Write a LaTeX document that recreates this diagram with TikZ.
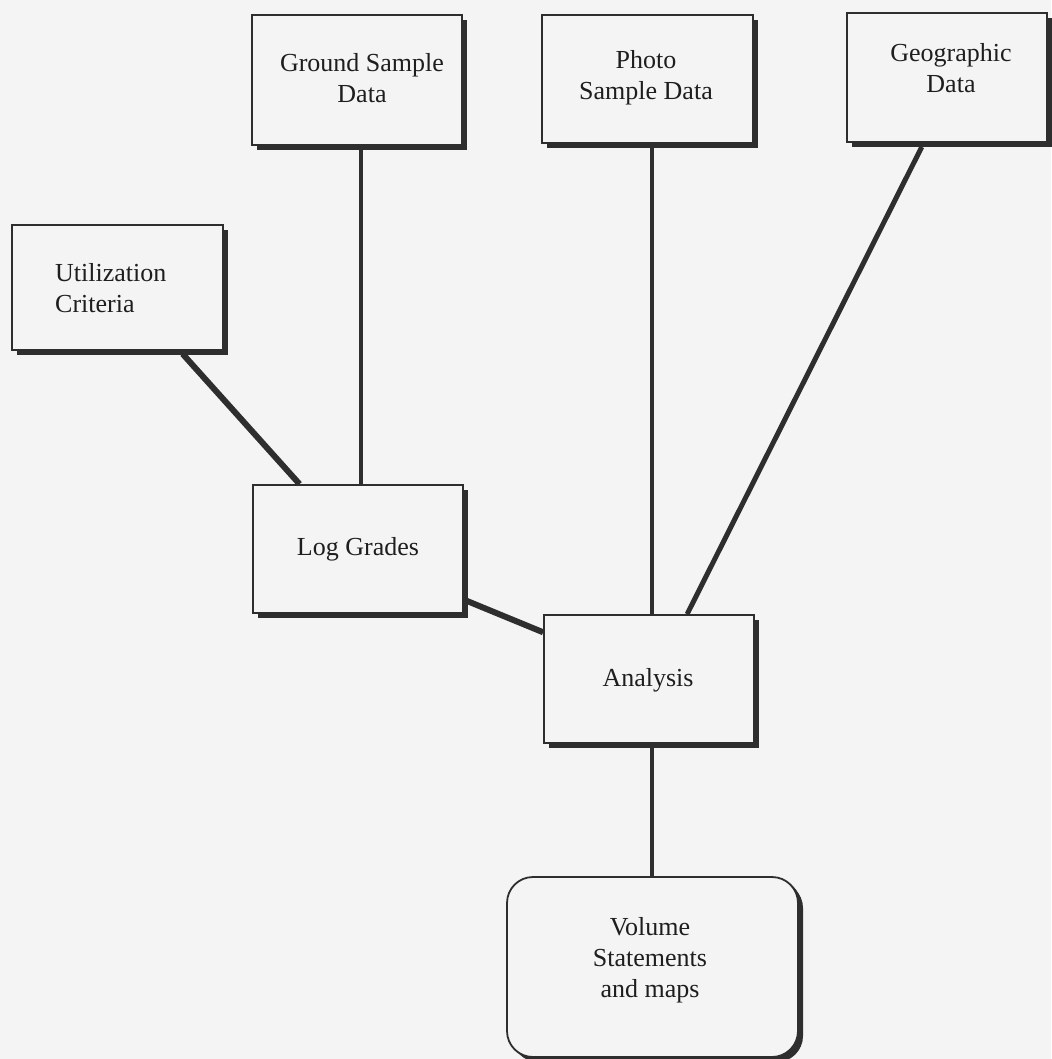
\documentclass[tikz,border=0pt]{standalone}
\usepackage{fontspec}
\setmainfont{Liberation Serif}
\usetikzlibrary{calc,shadows}
\definecolor{bg}{HTML}{F4F4F4}
\definecolor{ink}{HTML}{2E2E2E}
\definecolor{txt}{HTML}{1E1E1E}
\begin{document}
\begin{tikzpicture}[x=1pt,y=-1pt,
  box/.style={draw=ink, line width=1.8pt, fill=bg, inner sep=0pt, text=txt,
    font=\fontsize{26}{31}\selectfont, align=center,
    drop shadow={shadow xshift=5pt, shadow yshift=-5pt, fill=ink, opacity=1}},
  rbox/.style={box, rounded corners=26pt,
    drop shadow={shadow xshift=3pt, shadow yshift=-2pt, fill=ink, opacity=1}},
  link/.style={draw=ink, line width=#1},
  link/.default=4pt]
\fill[bg] (0,0) rectangle (1051,1059);
\useasboundingbox (0,0) rectangle (1051,1059);

\node[box, minimum width=210pt, minimum height=130pt] (ground) at (357,80) {};
\node[text=txt, font=\fontsize{26}{31}\selectfont, align=center] at (362,78) {Ground Sample\\Data};

\node[box, minimum width=211pt, minimum height=128pt] (photo) at (647.5,79) {};
\node[text=txt, font=\fontsize{26}{31}\selectfont, align=center] at (646,78) {Photo\\Sample Data};

\node[box, minimum width=200pt, minimum height=129pt] (geo) at (947,77.5) {};
\node[text=txt, font=\fontsize{26}{31}\selectfont, align=center] at (951,68) {Geographic\\Data};

\node[box, minimum width=211pt, minimum height=125pt] (util) at (117.5,287.5) {};
\node[text=txt, font=\fontsize{26}{31}\selectfont, align=left, anchor=west, inner sep=0pt] at (55,288) {Utilization\\Criteria};

\node[box, minimum width=210pt, minimum height=128pt] (log) at (358,549) {Log Grades};

\node[box, minimum width=210pt, minimum height=128pt] (ana) at (649,679) {};
\node[text=txt, font=\fontsize{26}{31}\selectfont] at (648,680) {Analysis};

\node[rbox, minimum width=291pt, minimum height=180pt] (vol) at (652.5,967) {};
\node[text=txt, font=\fontsize{26}{31}\selectfont, align=center] at (650,960) {Volume\\Statements\\and maps};

% connectors
\draw[link=4pt] ([xshift=4pt]ground.south) ++(0,2.5) -- ([xshift=4pt]ground.south |- log.north);
\draw[link=6pt] ($(util.south west)!0.806!(util.south east)+(0,3)$) -- ($(log.north west)!0.224!(log.north east)$);
\draw[link=3.5pt] ([xshift=4.5pt]photo.south) ++(0,2.5) -- ([xshift=4.5pt]photo.south |- ana.north);
\draw[link=5pt] ($(geo.south west)!0.375!(geo.south east)+(0,4)$) -- ($(ana.north west)!0.68!(ana.north east)$);
\draw[link=6pt] ($(log.north east)!0.9!(log.south east)+(3,0)$) -- ($(ana.north west)!0.14!(ana.south west)$);
\draw[link=4pt] ([xshift=3pt]ana.south) ++(0,3) -- ([xshift=3pt]ana.south |- vol.north);
\end{tikzpicture}
\end{document}
